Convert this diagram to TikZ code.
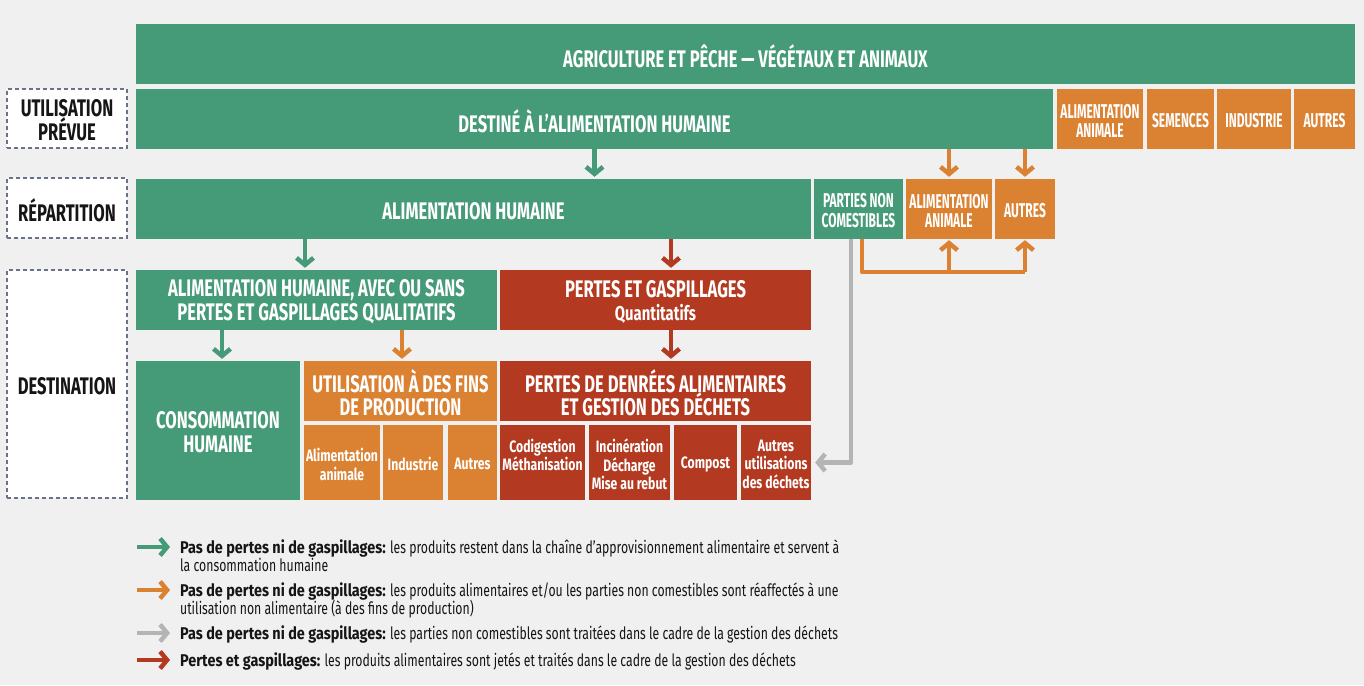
\documentclass[tikz,border=0pt]{standalone}
\usepackage{fontspec}
\setmainfont{Fira Sans}
\newfontfamily\bigf{Fira Sans}[FakeStretch=0.69]
\newfontfamily\smf{Fira Sans}[FakeStretch=0.6]
\newfontfamily\mixf{Fira Sans}[FakeStretch=0.74]
\newfontfamily\legr{Fira Sans}[FakeStretch=0.72]
\newfontfamily\legb{Fira Sans}[FakeStretch=0.85]
\usetikzlibrary{arrows.meta}
\definecolor{cgreen}{HTML}{459A78}
\definecolor{corange}{HTML}{DB8132}
\definecolor{cred}{HTML}{B33A20}
\definecolor{cgray}{HTML}{B4B4B4}
\definecolor{cbg}{HTML}{F0F0F0}
\definecolor{cdash}{HTML}{6A7285}
\definecolor{ctext}{HTML}{151515}
\tikzset{
  cell/.style={draw=none, inner sep=0pt, align=center, text=white},
  gcell/.style={cell, fill=cgreen},
  ocell/.style={cell, fill=corange},
  rcell/.style={cell, fill=cred},
  bigtxt/.style={font=\bigf\bfseries\fontsize{24}{23.5}\selectfont},
  smtxt/.style={font=\smf\bfseries\fontsize{20}{19.5}\selectfont},
  mixtxt/.style={font=\mixf\bfseries\fontsize{16.5}{18.5}\selectfont},
  lbl/.style={draw=cdash, line width=1.1pt, dash pattern=on 4pt off 3pt, fill=white, inner sep=0pt, align=center, text=ctext, font=\bigf\bfseries\fontsize{24}{22}\selectfont},
  flow/.style={line width=4.5pt, -{Straight Barb[length=7pt,width=17pt]}, shorten >=2pt},
  gflow/.style={flow, draw=cgreen},
  oflow/.style={flow, draw=corange},
  rflow/.style={flow, draw=cred},
  yflow/.style={flow, draw=cgray},
  oline/.style={line width=4.5pt, draw=corange, line join=round},
  legt/.style={anchor=base west, inner sep=0pt, text=ctext, font=\legr\fontsize{17}{19}\selectfont},
}
\newcommand\cellbox[7]{%
  \node[#2, minimum width={#5-#3}, minimum height={#6-#4}] (#1) at ({(#3+#5)/2},{(#4+#6)/2}) {};
  \node[#2, fill=none, draw=none, minimum width=0pt, minimum height=0pt] (#1-t) at ([yshift=-1.8pt]#1.center) {#7};}
\begin{document}
\begin{tikzpicture}[x=1pt,y=-1pt]
\fill[cbg] (0,0) rectangle (1364,685);
\useasboundingbox (0,0) rectangle (1364,685);

% left labels
\cellbox{lu}{lbl}{7}{89}{127}{148}{UTILISATION\\PRÉVUE}
\cellbox{lr}{lbl}{7}{178}{127}{238}{RÉPARTITION}
\cellbox{ld}{lbl}{7}{270}{127}{498}{DESTINATION}

% row 1
\cellbox{top}{gcell,bigtxt}{136}{24}{1355}{84}{AGRICULTURE ET PÊCHE — VÉGÉTAUX ET ANIMAUX}
% row 2
\cellbox{dest}{gcell,bigtxt}{136}{89}{1053}{149}{DESTINÉ À L’ALIMENTATION HUMAINE}
\cellbox{aa1}{ocell,smtxt}{1057}{89}{1143}{149}{ALIMENTATION\\ANIMALE}
\cellbox{sem}{ocell,smtxt}{1147}{89}{1214}{149}{SEMENCES}
\cellbox{ind}{ocell,smtxt}{1217}{89}{1291}{149}{INDUSTRIE}
\cellbox{aut1}{ocell,smtxt}{1294}{89}{1355}{149}{AUTRES}
% row 3
\cellbox{ah}{gcell,bigtxt}{136}{179}{811}{239}{ALIMENTATION HUMAINE}
\cellbox{pnc}{gcell,smtxt}{814}{179}{903}{239}{PARTIES NON\\COMESTIBLES}
\cellbox{aa2}{ocell,smtxt}{906}{179}{992}{239}{ALIMENTATION\\ANIMALE}
\cellbox{au2}{ocell,smtxt}{995}{179}{1055}{239}{AUTRES}
% row 4
\cellbox{ahq}{gcell,bigtxt}{136}{270}{497}{330}{ALIMENTATION HUMAINE, AVEC OU SANS\\PERTES ET GASPILLAGES QUALITATIFS}
\cellbox{pg}{rcell,bigtxt}{500}{270}{811}{330}{PERTES ET GASPILLAGES\\{\mixf\fontsize{20}{23.5}\selectfont Quantitatifs}}
% row 5
\cellbox{cons}{gcell,bigtxt}{136}{361}{300}{500}{CONSOMMATION\\HUMAINE}
\cellbox{ufp}{ocell,bigtxt}{304}{361}{497}{421}{UTILISATION À DES FINS\\DE PRODUCTION}
\cellbox{pdd}{rcell,bigtxt}{500}{361}{811}{421}{PERTES DE DENRÉES ALIMENTAIRES\\ET GESTION DES DÉCHETS}
% row 6
\cellbox{faa}{ocell,mixtxt}{304}{425}{380}{500}{Alimentation\\animale}
\cellbox{find}{ocell,mixtxt}{383}{425}{443}{500}{Industrie}
\cellbox{faut}{ocell,mixtxt}{448}{425}{497}{500}{Autres}
\cellbox{cod}{rcell,mixtxt}{500}{425}{585}{500}{Codigestion\\Méthanisation\\\mbox{}}
\cellbox{inc}{rcell,mixtxt}{589}{425}{670}{500}{Incinération\\Décharge\\Mise au rebut}
\cellbox{comp}{rcell,mixtxt}{674}{425}{737}{500}{Compost}
\cellbox{aud}{rcell,mixtxt}{741}{425}{811}{500}{Autres\\utilisations\\des déchets}

% arrows between rows
\draw[gflow] (dest.south) -- (dest.south |- ah.north);
\draw[oflow] (aa2.north |- dest.south) -- (aa2.north);
\draw[oflow] (au2.north |- dest.south) -- (au2.north);
\coordinate (gx) at (305,0);
\coordinate (rx) at (671,0);
\coordinate (g5x) at (222,0);
\coordinate (o5x) at (402,0);
\draw[gflow] (gx |- ah.south) -- (gx |- ahq.north);
\draw[rflow] (rx |- ah.south) -- (rx |- pg.north);
\draw[gflow] (g5x |- ahq.south) -- (g5x |- cons.north);
\draw[oflow] (o5x |- ahq.south) -- (o5x |- ufp.north);
\draw[rflow] (rx |- pg.south) -- (rx |- pdd.north);

% connectors from parties non comestibles
\coordinate (po) at ([xshift=3.5pt]pnc.south);
\coordinate (pg2) at ([xshift=-7.5pt]pnc.south);
\coordinate (oj) at (0,272);
\draw[oline] (po) -- (po |- oj) -- (au2.south |- oj);
\draw[oflow, shorten >=1pt] (au2.south |- oj) -- (au2.south);
\draw[oflow, shorten >=1pt] (aa2.south |- oj) -- (aa2.south);
\draw[yflow, line join=round, shorten >=4pt] (pg2) |- (aud.east);

% legend
\coordinate (l1s) at (137,547); \coordinate (l1e) at (170,547);
\coordinate (l2s) at (137,590); \coordinate (l2e) at (170,590);
\coordinate (l3s) at (137,633); \coordinate (l3e) at (170,633);
\coordinate (l4s) at (137,660); \coordinate (l4e) at (170,660);
\draw[gflow, shorten >=0pt] (l1s) -- (l1e);
\draw[oflow, shorten >=0pt] (l2s) -- (l2e);
\draw[yflow, shorten >=0pt] (l3s) -- (l3e);
\draw[rflow, shorten >=0pt] (l4s) -- (l4e);
\node[legt] (t1a) at (180,553) {{\legb\bfseries Pas de pertes ni de gaspillages:} les produits restent dans la chaîne d’approvisionnement alimentaire et servent à};
\node[legt] (t1b) at (180,571) {la consommation humaine};
\node[legt] (t2a) at (180,596) {{\legb\bfseries Pas de pertes ni de gaspillages:} les produits alimentaires et/ou les parties non comestibles sont réaffectés à une};
\node[legt] (t2b) at (180,614) {utilisation non alimentaire (à des fins de production)};
\node[legt] (t3) at (180,639) {{\legb\bfseries Pas de pertes ni de gaspillages:} les parties non comestibles sont traitées dans le cadre de la gestion des déchets};
\node[legt] (t4) at (180,666) {{\legb\bfseries Pertes et gaspillages:} les produits alimentaires sont jetés et traités dans le cadre de la gestion des déchets};
\end{tikzpicture}
\end{document}
